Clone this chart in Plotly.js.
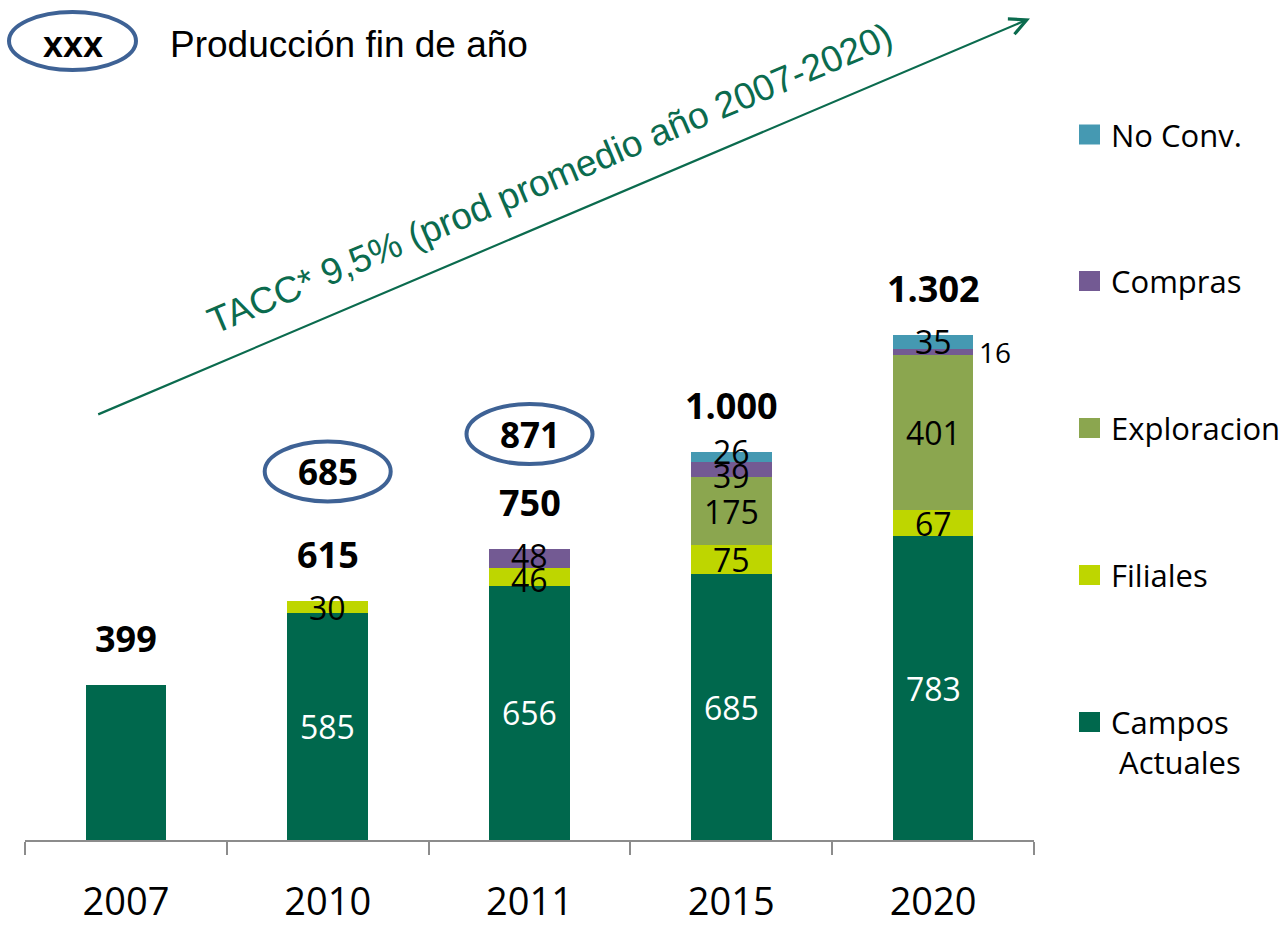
<!DOCTYPE html>
<html><head><meta charset="utf-8">
<script src="https://cdn.plot.ly/plotly-3.0.1.min.js"></script>
<style>html,body{margin:0;padding:0;background:#fff}#chart{width:1287px;height:926px}</style>
</head><body><div id="chart"></div>
<script>
// ---- data ----
const categories = ['2007', '2010', '2011', '2015', '2020'];
const camposActuales = [399, 585, 656, 685, 783];
const filiales = [0, 30, 46, 75, 67];
const exploracion = [0, 0, 0, 175, 401];
const compras = [0, 0, 48, 39, 16];
const noConv = [0, 0, 0, 26, 35];
const produccionFinAnio = [null, 685, 871, null, null];
const showCamposLabel = [false, true, true, true, true];
const seriesNames = ['Campos Actuales', 'Filiales', 'Exploracion', 'Compras', 'No Conv.'];
const legendLabels = ['Campos<br>\u00a0Actuales', 'Filiales', 'Exploracion', 'Compras', 'No Conv.'];
const taccText = 'TACC* 9,5% (prod promedio año 2007-2020)';
const keyText = 'xxx';
const keyLabel = 'Producción fin de año';

// ---- styles / layout constants ----
const colors = ['#00684D', '#BED600', '#8BA64F', '#735A93', '#4599B2'];
const labelColors = ['#FFFFFF', '#000000', '#000000', '#000000', '#000000'];
const ovalColor = '#3E6295';
const arrowColor = '#0B6B4E';
const W = 1287, H = 926;
const M = {l: 25, r: 253, t: 100, b: 86};
const PW = W - M.l - M.r, PH = H - M.t - M.b;
const px = x => (x - M.l) / PW;          // pixel x -> paper
const py = y => (H - M.b - y) / PH;      // pixel y -> paper
const ovalShift = [0, 130, 115, 0, 0];   // pixel offset of year-end oval above bar top
const yTop = 1302 * PH / (H - M.b - 335);   // y-axis upper range
const pxPerUnit = PH / yTop;
const minLabelGap = 24;                  // px between stacked label centres

const seriesValues = [camposActuales, filiales, exploracion, compras, noConv];
const fmt = n => n >= 1000 ? Math.floor(n / 1000) + '.' + String(n % 1000).padStart(3, '0') : String(n);

const traces = seriesValues.map((vals, s) => ({
  type: 'bar', name: seriesNames[s], x: categories,
  y: vals.map(v => v > 0 ? v : null),
  marker: {color: colors[s], line: {width: 0}},
  hoverinfo: 'x+y+name', showlegend: false
}));

const annotations = [];
const shapes = [];
const totals = categories.map((c, i) => seriesValues.reduce((a, vals) => a + vals[i], 0));

categories.forEach((c, i) => {
  let base = 0;
  const inside = [];
  seriesValues.forEach((vals, s) => {
    const v = vals[i];
    if (v > 0 && !(s === 0 && !showCamposLabel[i])) {
      const small = v < 20;
      const a = {
        x: i, y: base + v / 2, xref: 'x', yref: 'y',
        text: String(v), showarrow: false,
        xanchor: small ? 'left' : 'center', xshift: small ? 44 : 0,
        yanchor: 'middle', yshift: 0,
        font: {family: 'Open Sans', size: small ? 28 : 32, color: labelColors[s]}
      };
      annotations.push(a);
      if (!small) inside.push(a);
    }
    base += v;
  });
  // spread crowded labels apart
  for (let k = 1; k < inside.length; k++) {
    const lo = inside[k - 1], hi = inside[k];
    const gap = (hi.y - lo.y) * pxPerUnit + hi.yshift - lo.yshift;
    if (gap < minLabelGap) {
      const d = (minLabelGap - gap) / 2;
      lo.yshift -= d; hi.yshift += d;
    }
  }
  // total label
  annotations.push({
    x: i, y: totals[i], xref: 'x', yref: 'y', text: '<b>' + fmt(totals[i]) + '</b>',
    showarrow: false, yanchor: 'bottom', yshift: 20,
    font: {family: 'Open Sans', size: 36, color: '#000'}
  });
  // production year-end ovals
  if (produccionFinAnio[i] != null) {
    const sh = ovalShift[i];
    shapes.push({
      type: 'circle', xref: 'x', yref: 'y', xsizemode: 'pixel', ysizemode: 'pixel',
      xanchor: i, yanchor: totals[i], x0: -63, x1: 63, y0: sh - 30, y1: sh + 30,
      line: {color: ovalColor, width: 4}, fillcolor: 'rgba(0,0,0,0)'
    });
    annotations.push({
      x: i, y: totals[i], xref: 'x', yref: 'y', text: '<b>' + fmt(produccionFinAnio[i]) + '</b>',
      showarrow: false, yanchor: 'middle', yshift: sh,
      font: {family: 'Open Sans', size: 35, color: '#000'}
    });
  }
});

// key oval at top-left
shapes.push({
  type: 'circle', xref: 'paper', yref: 'paper',
  x0: px(9), x1: px(136), y0: py(70), y1: py(12),
  line: {color: ovalColor, width: 4}, fillcolor: 'rgba(0,0,0,0)'
});
annotations.push({
  xref: 'paper', yref: 'paper', x: px(72.5), y: py(44), text: '<b>' + keyText + '</b>',
  showarrow: false, xanchor: 'center', yanchor: 'middle',
  font: {family: 'Liberation Sans', size: 36, color: '#000'}
});
annotations.push({
  xref: 'paper', yref: 'paper', x: px(168), y: py(44), text: keyLabel,
  showarrow: false, xanchor: 'left', yanchor: 'middle',
  font: {family: 'Liberation Sans', size: 37, color: '#000'}
});

// growth arrow
annotations.push({
  xref: 'paper', yref: 'paper', x: px(1030), y: py(18.5),
  ax: 96.7 - 1030, ay: 415 - 18.5, axref: 'pixel', ayref: 'pixel',
  text: ' ', font: {size: 1},
  showarrow: true, arrowhead: 5, arrowsize: 1.5, arrowwidth: 2.2, arrowcolor: arrowColor
});
annotations.push({
  xref: 'paper', yref: 'paper', x: px(550), y: py(178), text: taccText,
  showarrow: false, textangle: -23, xanchor: 'center', yanchor: 'middle',
  font: {family: 'Liberation Sans', size: 37, color: arrowColor}
});

// legend (top to bottom: reverse of stack order)
const legendY = [722, 575, 428, 281, 134.5];
seriesValues.forEach((vals, s) => {
  const cy = legendY[s];
  shapes.push({
    type: 'rect', xref: 'paper', yref: 'paper',
    x0: px(1079), x1: px(1100), y0: py(cy + 10), y1: py(cy - 10),
    line: {width: 0}, fillcolor: colors[s]
  });
  annotations.push({
    xref: 'paper', yref: 'paper', x: px(1109), y: py(cy - 23), text: legendLabels[s],
    showarrow: false, xanchor: 'left', yanchor: 'top', align: 'left',
    font: {family: 'Open Sans', size: 31, color: '#000'}
  });
});

const layout = {
  width: W, height: H, margin: M,
  paper_bgcolor: '#fff', plot_bgcolor: '#fff',
  barmode: 'stack', bargap: 0.6,
  font: {family: 'Open Sans', color: '#000'},
  showlegend: false,
  xaxis: {
    type: 'category', range: [-0.5, 4.5], showgrid: false, zeroline: false,
    showline: true, linecolor: '#8C8C8C', linewidth: 2,
    ticks: 'outside', tickson: 'boundaries', ticklen: 13, tickwidth: 2, tickcolor: '#8C8C8C',
    ticklabelstandoff: 27,
    tickfont: {family: 'Open Sans', size: 38, color: '#000'}
  },
  yaxis: {range: [0, yTop], visible: false, fixedrange: true},
  annotations: annotations, shapes: shapes
};

Plotly.newPlot('chart', traces, layout, {displayModeBar: false, staticPlot: true});
</script></body></html>
